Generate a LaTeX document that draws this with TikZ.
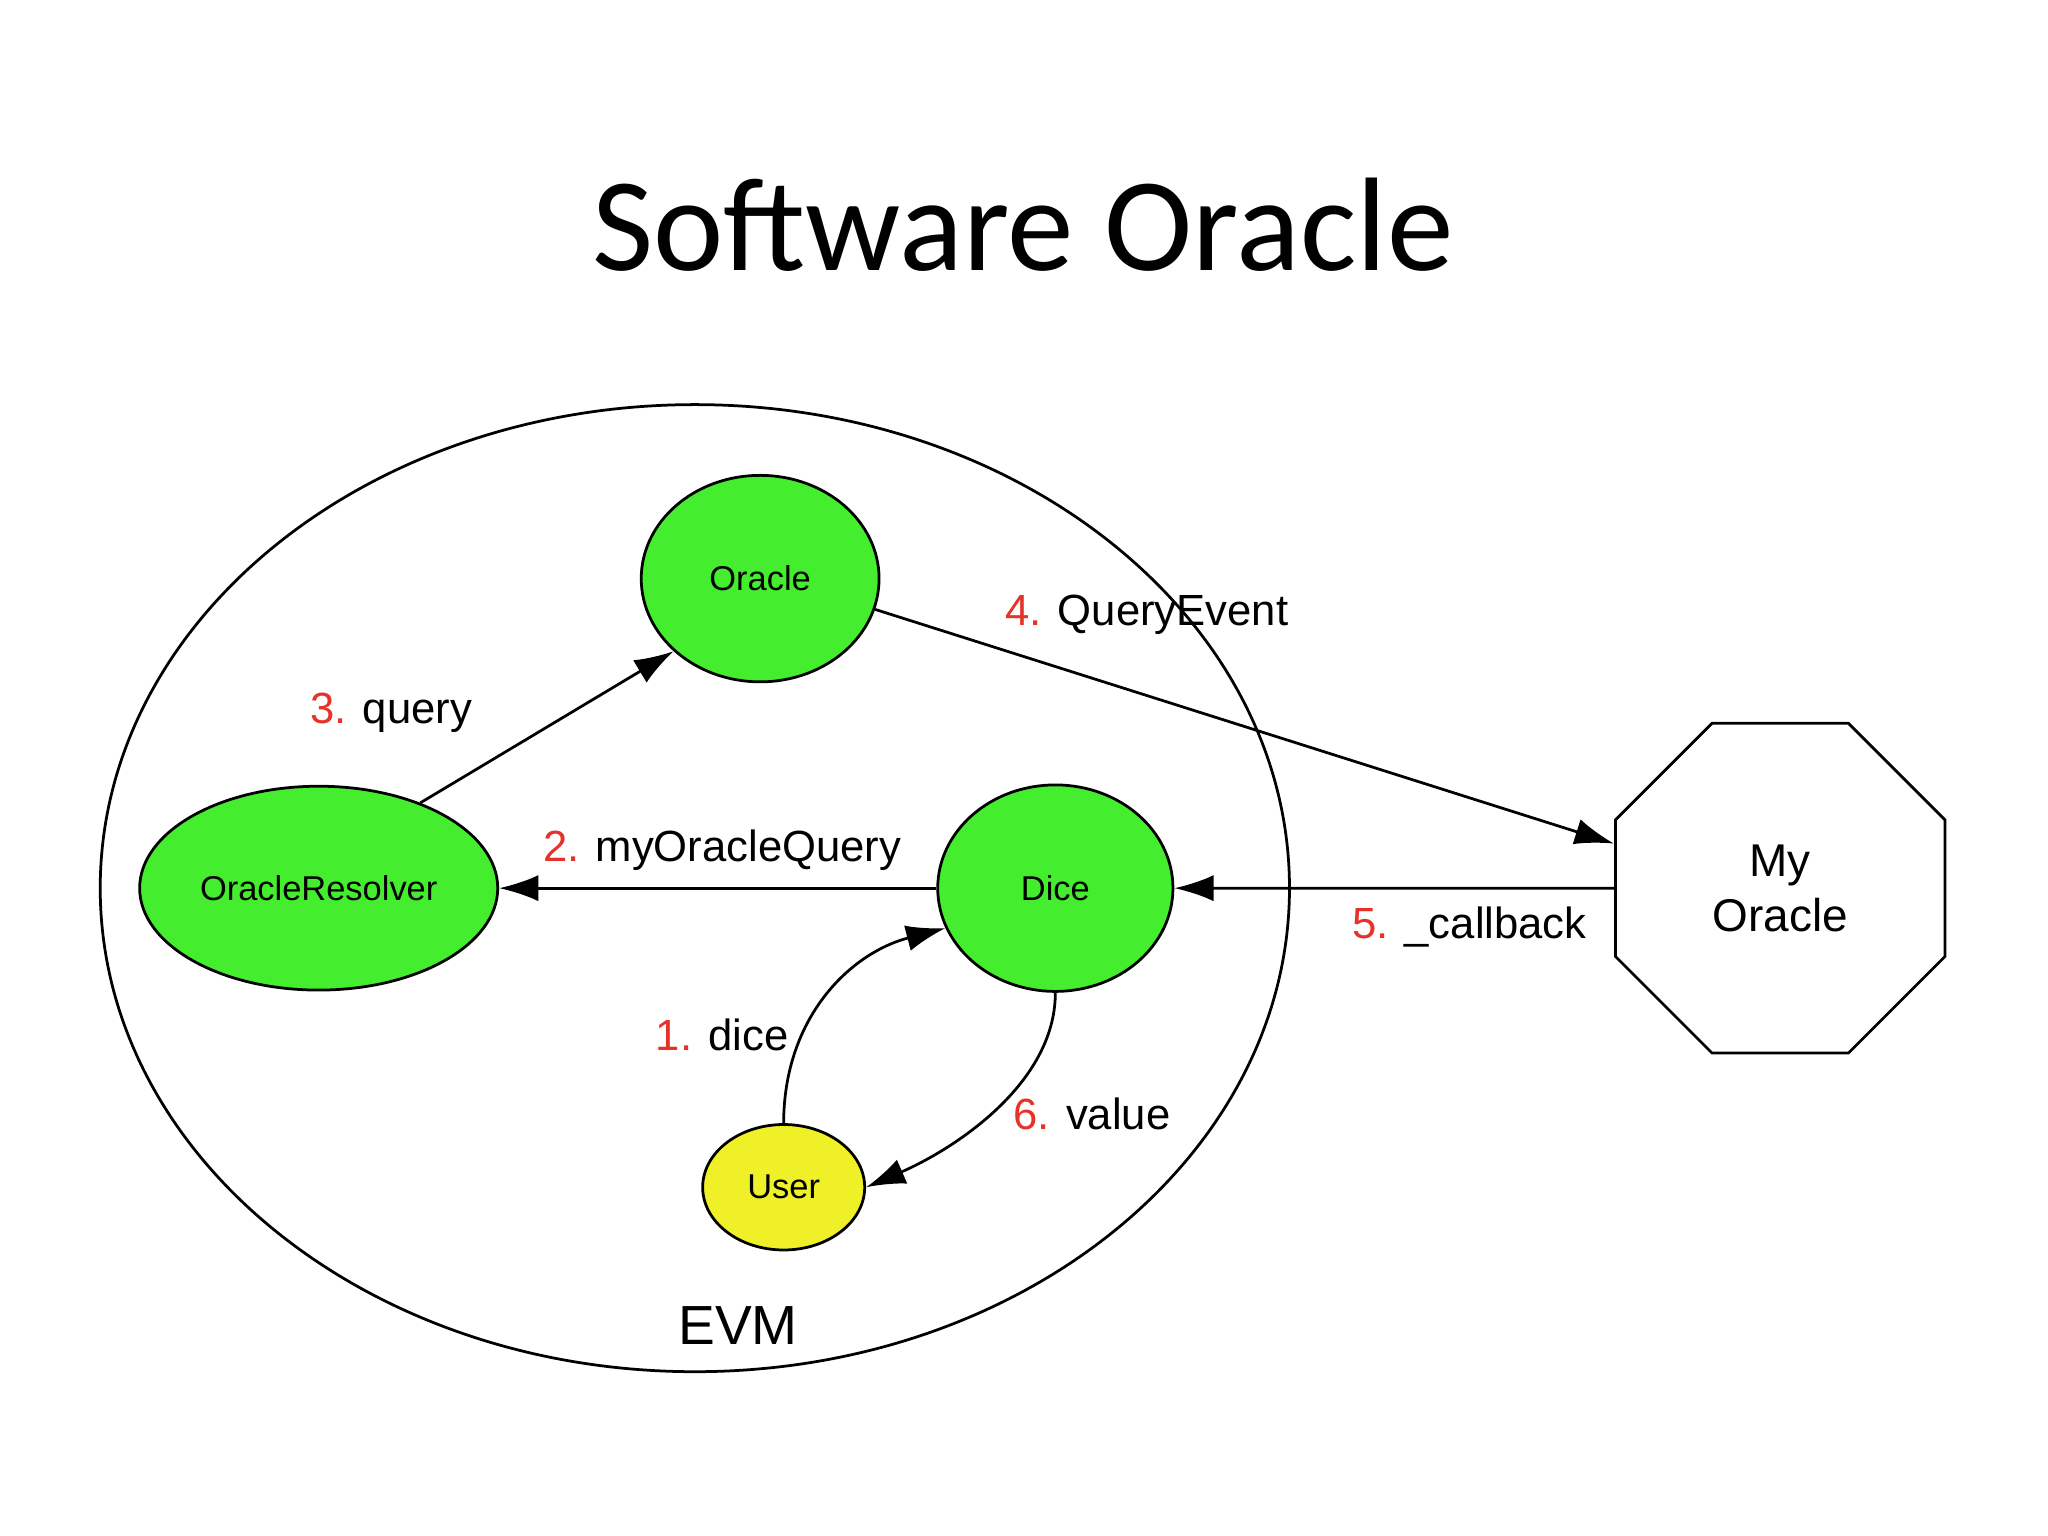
\documentclass[tikz,border=0pt]{standalone}
\usepackage{fontspec}
\setmainfont{Liberation Sans}
\newfontfamily\titlefont{Carlito}
\usetikzlibrary{shapes.geometric,arrows.meta}
\definecolor{nodegreen}{RGB}{68,238,46}
\definecolor{nodeyellow}{RGB}{240,240,40}
\definecolor{numred}{RGB}{230,50,40}
\begin{document}
\begin{tikzpicture}[x=0.01cm,y=-0.01cm,
  ell/.style={ellipse,draw=black,line width=0.6pt,inner sep=0pt,font=\fontsize{7.5}{9}\selectfont},
  lab/.style={font=\fontsize{9.5}{11}\selectfont,inner sep=1pt},
  arr/.style={-{Latex[length=3mm,width=2mm]},line width=0.6pt}]
\fill[white] (0,0) rectangle (1568,1176);
\useasboundingbox (0,0) rectangle (1568,1176);
\node[font=\titlefont\fontsize{29}{34}\selectfont] (title) at (783,172) {Software Oracle};
\node[ellipse,draw,line width=0.6pt,minimum width=910\pgflinewidth*0+9.1cm,minimum height=7.4cm,inner sep=0pt] (evm) at (532,680) {};
\node[font=\fontsize{12}{14}\selectfont] (evml) at (565,1015) {EVM};
\node[ell,fill=nodegreen,minimum width=1.82cm,minimum height=1.58cm] (oracle) at (582,443) {Oracle};
\node[ell,fill=nodegreen,minimum width=2.74cm,minimum height=1.56cm] (res) at (244,680) {OracleResolver};
\node[ell,fill=nodegreen,minimum width=1.80cm,minimum height=1.58cm] (dice) at (808,680) {Dice};
\node[ell,fill=nodeyellow,minimum width=1.24cm,minimum height=0.96cm] (user) at (600,909) {User};
\node[regular polygon,regular polygon sides=8,draw,line width=0.6pt,minimum size=2.73cm,inner sep=0pt,align=center,font=\fontsize{10}{12}\selectfont] (my) at (1363,680) {My\\Oracle};
\draw[arr] (res.40) -- (oracle.220) node[lab,pos=0.3,above left=4pt] (l3) {\textcolor{numred}{3.} query};
\draw[arr] (oracle.-15) -- (my.165);
\node[lab] (l4) at (878,471) {\textcolor{numred}{4.} QueryEvent};
\draw[arr] (dice.west) -- (res.east);
\node[lab] (l2) at (553,651) {\textcolor{numred}{2.} myOracleQuery};
\draw[arr] (my.west) -- (dice.east);
\node[lab] (l5) at (1125,710) {\textcolor{numred}{5.} \_callback};
\draw[arr] (user.north) .. controls (600,780) and (650,730) .. (dice.200);
\node[lab] (l1) at (553,792) {\textcolor{numred}{1.} dice};
\draw[arr] (dice.south) .. controls (808,830) and (730,880) .. (user.east);
\node[lab] (l6) at (836,853) {\textcolor{numred}{6.} value};
\end{tikzpicture}
\end{document}
